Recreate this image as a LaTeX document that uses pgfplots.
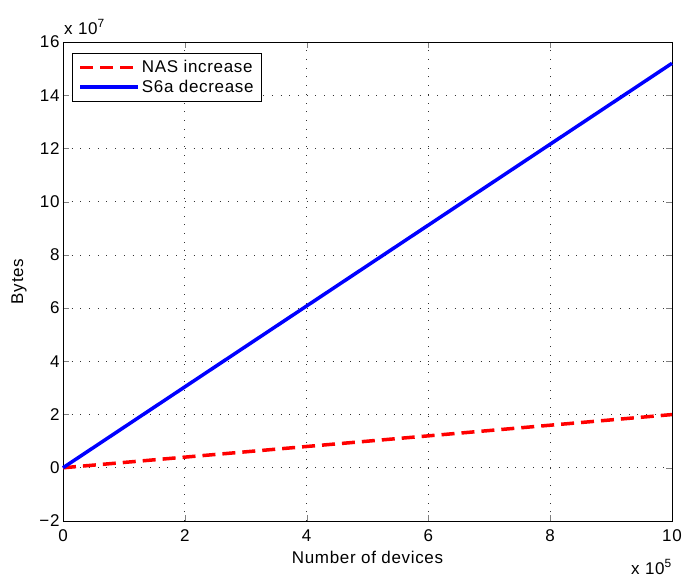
\documentclass[border=0pt]{standalone}
\usepackage{fontspec}
\setmainfont{Liberation Sans}[LetterSpace=4]
\usepackage{pgfplots}
\pgfplotsset{compat=1.18}
\newcommand{\fs}{\fontsize{17}{20}\selectfont}
\begin{document}
\begin{tikzpicture}
\begin{axis}[
    name=ax,
    scale only axis,
    width=609pt, height=479pt,
    xmin=0, xmax=10, ymin=-2, ymax=16,
    xtick={0,2,4,6,8,10},
    ytick={-2,0,2,4,6,8,10,12,14,16},
    yticklabels={−2,0,2,4,6,8,10,12,14,16},
    /pgf/number format/assume math mode=true,
    tick label style={font=\fs},
    xticklabel style={yshift=-5pt},
    label style={font=\fs},
    xlabel={Number of devices},
    ylabel={Bytes},
    xlabel style={at={(axis description cs:0.5,0)}, anchor=center, yshift=-36pt},
    ylabel style={at={(axis description cs:-0.072,0.5)}, anchor=center},
    tick align=inside, tick pos=both,
    major tick length=6pt,
    axis line style={line width=0.8pt},
    grid=major,
    major grid style={black!80, line width=0.7pt, dash pattern=on 0.9pt off 7.8pt},
    legend cell align=left,
    legend style={font=\fs, draw=black, line width=0.8pt,
        at={(0.0148,0.977)}, anchor=north west, inner xsep=6pt, inner ysep=5pt, row sep=2pt},
    legend image code/.code={\draw[#1] (0pt,0pt) -- (58pt,0pt);},
    clip=false,
]
\addplot[red, line width=3.5pt, dash pattern=on 13pt off 7pt] coordinates {(0,0) (10,2)};
\addlegendentry{NAS increase}
\addplot[blue, line width=3.5pt] coordinates {(0,0) (10,15.2)};
\addlegendentry{S6a decrease}
\node[anchor=base west, font=\fs, inner sep=0pt] at (rel axis cs:0,1) [yshift=8pt, xshift=1pt] {x 10\textsuperscript{7}};
\node[anchor=base east, font=\fs, inner sep=0pt] at (rel axis cs:1,0) [yshift=-53pt] {x 10\textsuperscript{5}};
\end{axis}
\pgfresetboundingbox
\path[use as bounding box] ([xshift=-63pt,yshift=-58pt]ax.south west) rectangle ([xshift=13pt,yshift=42pt]ax.north east);
\end{tikzpicture}
\end{document}
